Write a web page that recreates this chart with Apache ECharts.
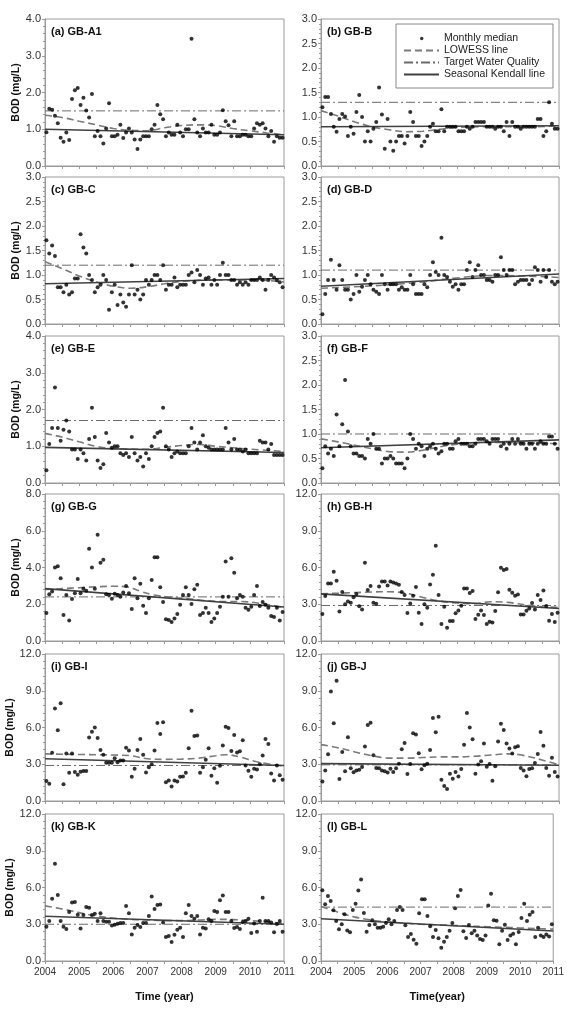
<!DOCTYPE html>
<html lang="en">
<head>
<meta charset="UTF-8">
<title>BOD monthly median trends</title>
<script src="https://cdn.jsdelivr.net/npm/echarts@6/dist/echarts.min.js"></script>
<style>
    html, body { margin: 0; padding: 0; background: #fff; }
    #main { width: 567px; height: 1012px; }
</style>
</head>
<body>
<div id="main"></div>
<script>
// panel labels and axis ranges
var panelNames = ['(a) GB-A1', '(b) GB-B', '(c) GB-C', '(d) GB-D', '(e) GB-E', '(f) GB-F',
                  '(g) GB-G', '(h) GB-H', '(i) GB-I', '(j) GB-J', '(k) GB-K', '(l) GB-L'];
var yMax  = [4, 3, 3, 3, 4, 3, 8, 12, 12, 12, 12, 12];
var yStep = [1, 0.5, 0.5, 0.5, 1, 0.5, 2, 3, 3, 3, 3, 3];
var xTicks = [2004, 2005, 2006, 2007, 2008, 2009, 2010, 2011];

// target water quality and seasonal kendall line ends (2004 -> 2011)
var target  = [1.5, 1.3, 1.2, 1.1, 1.7, 1.0, 2.4, 2.9, 2.9, 2.95, 3.0, 4.4];
var skStart = [1.0, 0.8, 0.82, 0.77, 0.97, 0.72, 2.85, 3.85, 3.45, 3.05, 3.65, 3.45];
var skEnd   = [0.85, 0.82, 0.93, 1.02, 0.83, 0.88, 1.85, 2.65, 2.9, 2.92, 3.0, 2.45];

// monthly medians, Jan 2004 .. Dec 2010
var medA = [0.92,1.56,1.53,1.37,1.16,0.77,0.66,0.91,0.71,1.82,2.06,2.12,1.66,1.86,1.51,1.32,1.96,0.81,0.95,0.81,
            0.61,1.02,1.71,0.81,0.81,0.85,1.12,0.76,0.91,1.02,0.91,0.72,0.46,0.72,0.81,0.81,0.81,1.0,1.12,1.66,
            1.41,1.27,0.81,0.91,0.85,0.85,1.12,0.91,0.81,1.0,1.0,3.46,1.27,0.91,0.81,1.02,0.91,0.91,1.12,0.85,
            0.85,0.91,1.52,1.22,1.11,0.81,1.22,0.81,0.81,0.85,0.85,0.81,0.81,1.02,1.16,1.12,1.16,1.02,0.81,0.95,
            0.66,0.81,0.77,0.77];
var medB = [1.2,1.41,1.41,1.06,0.8,0.7,0.96,1.06,1.01,0.61,0.8,0.66,1.1,1.45,1.0,0.5,0.71,0.5,0.76,0.9,
            1.6,1.05,0.35,0.96,0.5,0.31,0.5,0.61,0.61,0.46,0.61,1.1,0.9,0.61,0.61,0.41,0.5,0.61,0.8,0.86,
            0.71,0.71,1.16,0.71,0.8,0.8,0.8,0.8,0.71,0.71,0.71,0.8,0.76,0.8,0.9,0.9,0.9,0.9,0.8,0.8,
            0.8,0.76,0.8,0.8,0.71,0.9,0.61,0.9,0.8,0.8,0.76,0.8,0.8,0.8,0.8,0.8,0.96,0.96,0.61,0.71,
            1.3,0.86,0.76,0.76];
var medC = [1.71,1.44,1.6,1.39,0.75,0.75,0.65,0.8,0.6,0.65,0.93,0.93,1.83,1.56,1.44,1.0,0.9,0.65,0.75,0.8,
            1.0,0.9,0.29,0.65,0.8,0.39,0.6,0.44,0.35,0.6,1.2,0.6,0.7,0.5,0.6,0.9,0.8,0.9,1.0,1.0,
            0.9,1.2,0.7,0.8,0.8,0.95,0.75,0.8,0.8,0.8,1.0,1.05,0.85,1.1,1.0,0.8,0.93,0.95,0.8,0.9,
            0.8,1.0,1.25,1.0,1.0,0.9,0.9,0.8,0.85,0.8,0.85,0.8,0.9,0.9,0.9,0.95,0.9,0.7,0.9,1.0,
            0.95,0.9,0.85,0.75];
var medD = [0.2,0.61,0.9,1.31,0.9,0.7,1.2,0.9,0.7,0.7,0.5,0.61,1.0,0.66,0.76,0.9,1.0,0.81,0.7,0.66,
            0.61,1.0,0.81,0.7,0.81,0.81,0.81,0.7,0.75,0.7,0.7,1.0,0.81,0.61,0.61,0.61,0.81,0.75,1.0,1.26,
            1.06,1.0,1.76,1.0,0.96,0.86,0.76,0.81,0.7,0.81,0.81,1.1,1.26,0.96,1.1,1.2,1.0,1.0,0.9,0.9,
            0.86,1.0,1.0,1.36,1.1,1.0,1.1,1.1,0.81,0.86,0.9,0.9,0.9,0.81,0.9,1.16,1.1,0.86,1.1,0.96,
            1.1,0.86,0.81,0.86];
var medE = [0.35,1.06,1.5,2.6,1.5,1.15,1.45,1.7,1.4,0.91,0.91,0.65,0.91,0.81,0.61,1.2,2.05,1.25,0.61,0.41,
            0.51,1.36,1.1,0.96,1.0,1.0,0.81,0.76,0.81,0.71,1.25,0.81,0.61,0.71,0.45,0.81,0.65,1.0,1.25,1.36,
            1.4,2.05,1.0,0.91,0.71,0.81,0.86,0.81,0.81,0.81,1.0,1.5,1.1,0.91,1.1,1.3,1.0,0.96,0.91,0.91,
            0.91,0.91,0.91,1.5,1.1,0.91,1.2,0.91,0.91,0.86,0.91,0.81,0.81,0.81,0.81,1.15,1.1,1.1,0.91,1.06,
            0.76,0.76,0.76,0.76];
var medF = [0.3,0.75,0.6,0.7,0.55,1.4,0.75,1.2,2.1,1.05,0.75,0.6,0.6,0.55,0.55,0.5,0.9,0.8,1.0,0.7,
            0.7,0.4,0.5,0.5,0.55,0.5,0.4,0.4,0.4,0.3,0.5,1.0,0.9,0.7,0.8,0.75,0.55,0.7,0.75,0.8,
            0.7,0.6,0.65,0.8,0.8,0.7,0.7,0.85,0.9,0.8,0.8,0.8,0.75,0.75,0.8,0.9,0.9,0.9,0.85,0.8,
            0.9,0.9,0.9,0.75,0.8,0.7,0.8,0.9,0.8,0.9,0.8,0.8,0.7,0.8,0.8,0.7,0.8,0.85,0.8,0.8,
            0.95,0.95,0.8,0.7];
var medG = [1.52,2.55,2.7,4.0,4.07,3.42,1.41,2.5,1.12,2.28,2.6,3.37,2.6,2.84,2.74,5.02,4.0,2.84,5.78,4.26,
            4.42,2.55,2.5,2.3,2.57,2.5,2.41,2.64,2.99,2.6,1.74,3.42,2.32,3.12,1.92,1.52,2.32,3.32,4.56,4.56,
            2.92,2.12,1.18,1.14,1.03,1.23,1.47,1.97,2.5,2.92,2.5,2.01,2.81,3.06,1.41,1.52,1.81,1.52,1.03,1.23,
            1.52,1.87,2.41,4.33,2.41,4.51,3.71,2.32,2.5,2.41,1.81,1.7,1.87,2.5,3.0,1.9,2.12,1.97,1.81,1.36,
            1.3,1.81,1.12,1.58];
var medH = [2.2,3.67,4.7,4.7,5.65,4.92,2.4,4.0,3.0,3.23,3.12,3.58,3.83,2.83,2.58,6.38,4.16,4.48,3.12,3.04,
            4.45,4.86,4.86,4.53,4.86,4.78,4.7,4.6,4.0,3.75,2.28,3.07,3.7,4.4,2.3,1.39,3.0,2.72,4.62,5.4,
            7.77,3.75,1.39,2.8,1.09,1.63,1.63,2.26,2.5,2.88,4.29,4.29,3.91,4.08,1.79,2.15,2.5,2.12,1.39,1.58,
            1.52,2.45,3.97,5.98,5.79,5.87,4.18,3.94,3.7,3.8,2.17,2.17,2.47,2.66,3.1,2.58,3.75,3.34,4.13,2.85,
            1.66,2.2,1.55,2.3];
var medI = [1.63,1.41,3.93,7.56,5.77,7.97,1.36,3.88,2.3,3.88,2.36,2.14,2.38,2.44,2.44,5.18,5.66,5.99,5.15,4.17,
            3.77,3.12,3.12,3.12,3.5,3.17,3.3,3.3,4.34,4.12,1.98,2.63,4.17,5.07,3.77,2.33,2.76,3.0,4.12,6.37,
            5.47,6.42,1.54,1.68,1.19,1.68,1.6,1.98,2.0,2.3,4.31,7.37,5.31,5.34,2.3,2.76,3.36,4.31,2.06,2.68,
            1.49,2.87,4.53,6.07,5.96,4.09,5.39,3.96,4.07,4.96,2.9,2.47,1.98,2.63,2.57,3.0,3.71,5.07,4.66,2.25,
            1.68,2.9,2.11,1.73];
var medJ = [1.6,2.48,3.81,8.94,6.35,9.81,1.8,4.0,2.42,5.2,2.67,2.34,2.48,2.56,2.78,4.44,6.21,6.38,3.73,2.7,
            2.67,2.48,2.42,2.32,2.64,2.37,2.67,3.05,4.22,4.74,2.2,3.02,5.53,5.42,3.9,2.59,2.92,3.05,4.17,6.78,
            5.61,6.87,1.74,1.23,0.98,2.23,1.82,2.37,1.99,2.62,4.6,7.19,6.0,5.04,2.23,2.97,3.24,4.69,2.8,3.02,
            1.66,2.83,4.85,6.3,5.8,4.69,4.28,3.87,4.39,4.47,2.7,2.48,2.02,2.62,2.67,3.11,3.84,5.64,4.52,2.7,
            2.07,3.54,2.37,1.99];
var medK = [2.8,3.27,5.08,7.93,5.38,3.27,2.8,2.61,4.0,4.78,4.81,3.78,2.66,3.75,4.4,4.35,3.75,3.86,3.27,3.89,
            3.27,3.21,3.21,2.9,2.96,3.04,3.1,3.1,4.48,3.89,2.17,2.72,2.93,2.77,3.1,3.1,3.67,5.27,4.24,4.57,
            4.62,3.15,1.96,2.04,1.55,2.15,2.55,2.72,1.96,3.89,4.57,3.67,3.45,3.67,2.17,2.72,2.66,3.4,3.27,4.08,
            4.0,4.95,5.35,4.0,4.0,3.27,2.69,2.77,2.61,3.18,3.27,3.45,2.28,3.07,2.39,3.27,5.16,3.27,3.27,3.15,
            2.34,3.02,3.27,2.39];
var medL = [5.78,4.63,5.31,4.9,4.14,3.27,2.59,3.0,3.82,2.5,2.34,4.16,4.68,5.75,6.65,3.92,2.39,2.94,3.32,3.0,
            2.72,2.72,2.8,3.1,3.4,3.0,3.27,4.16,4.4,4.16,2.91,1.96,2.2,1.74,1.41,3.89,5.05,5.05,3.67,2.83,
            1.96,2.53,1.85,1.09,1.58,1.96,2.47,3.1,4.3,5.31,5.8,2.42,1.88,2.94,2.26,2.47,2.09,1.79,1.71,2.09,
            4.54,5.49,3.32,3.29,1.36,2.47,2.96,1.71,2.09,2.23,1.36,2.36,3.51,4.68,3.27,3.78,4.0,1.96,2.72,2.09,
            1.96,2.17,2.01,3.0];

// LOWESS curves: [year, BOD]
var lowA = [[2004,1.38],[2004.5,1.32],[2005,1.22],[2005.5,1.12],[2006,1.02],[2006.5,0.97],[2007,0.96],[2007.5,1.04],
            [2008,1.1],[2008.5,1.12],[2009,1.1],[2009.5,1.02],[2010,0.96],[2010.5,0.9],[2011,0.85]];
var lowB = [[2004,1.13],[2004.5,1.02],[2005,0.9],[2005.5,0.8],[2006,0.74],[2006.5,0.7],[2007,0.71],[2007.5,0.75],
            [2008,0.79],[2009,0.8],[2010,0.8],[2011,0.82]];
var lowC = [[2004,1.27],[2004.5,1.13],[2005,0.98],[2005.5,0.86],[2006,0.77],[2006.5,0.73],[2007,0.76],[2007.5,0.82],
            [2008,0.87],[2009,0.9],[2010,0.9],[2011,0.86]];
var lowD = [[2004,0.73],[2005,0.76],[2006,0.8],[2007,0.86],[2008,0.94],[2009,0.99],[2010,0.98],[2011,0.95]];
var lowE = [[2004,1.35],[2004.5,1.25],[2005,1.12],[2005.5,1.0],[2006,0.94],[2007,0.92],[2007.5,0.97],[2008,1.02],
            [2008.5,1.05],[2009,1.0],[2009.5,0.96],[2010,0.92],[2011,0.86]];
var lowF = [[2004,0.9],[2004.5,0.84],[2005,0.77],[2005.5,0.7],[2006,0.64],[2006.5,0.63],[2007,0.67],[2007.5,0.74],
            [2008,0.79],[2008.5,0.82],[2009,0.83],[2010,0.82],[2011,0.8]];
var lowG = [[2004,2.8],[2004.5,2.85],[2005,2.9],[2005.5,2.95],[2006,2.98],[2006.4,2.95],[2006.8,2.7],[2007.2,2.5],
            [2007.7,2.38],[2008.2,2.3],[2008.7,2.2],[2009.2,2.15],[2009.7,2.15],[2010.3,2.05],[2011,1.82]];
var lowH = [[2004,3.85],[2004.5,3.9],[2005,3.95],[2005.5,4.0],[2006,4.02],[2006.5,3.9],[2007,3.55],[2007.5,3.25],
            [2008,3.1],[2008.5,3.05],[2009,3.2],[2009.5,3.15],[2010,2.95],[2010.5,2.8],[2011,2.75]];
var lowI = [[2004,3.85],[2004.5,3.82],[2005,3.8],[2005.5,3.78],[2006,3.75],[2006.5,3.7],[2007,3.45],[2007.5,3.4],
            [2008,3.42],[2008.5,3.5],[2009,3.7],[2009.3,3.78],[2009.7,3.6],[2010.2,3.2],[2011,2.85]];
var lowJ = [[2004,4.6],[2004.5,4.35],[2005,4.0],[2005.5,3.7],[2006,3.5],[2006.5,3.5],[2007,3.55],[2007.5,3.6],
            [2008,3.6],[2008.5,3.65],[2009,3.75],[2009.5,3.85],[2009.9,3.75],[2010.5,3.35],[2011,2.95]];
var lowK = [[2004,4.5],[2004.5,4.25],[2005,3.95],[2005.5,3.68],[2006,3.5],[2006.5,3.4],[2007,3.35],[2007.5,3.3],
            [2008,3.3],[2008.5,3.35],[2009,3.4],[2009.5,3.38],[2010,3.3],[2010.5,3.2],[2011,3.05]];
var lowL = [[2004,4.45],[2004.5,4.0],[2005,3.6],[2005.5,3.35],[2006,3.2],[2006.5,3.1],[2007,3.0],[2007.5,2.95],
            [2008,2.9],[2008.5,2.85],[2009,2.8],[2009.5,2.75],[2010,2.7],[2010.5,2.65],[2011,2.6]];

var medians = [medA, medB, medC, medD, medE, medF, medG, medH, medI, medJ, medK, medL];
var lowess  = [lowA, lowB, lowC, lowD, lowE, lowF, lowG, lowH, lowI, lowJ, lowK, lowL];

var myChart = echarts.init(document.getElementById('main'));

// grid placement
var colLeft  = [45, 321];
var colWidth = [239, 238];
var rowTop   = [19, 177, 336, 494, 654, 814];
var plotH    = 147;
var frameColor = '#9a9a9a';
var font = '"Liberation Sans", Arial, sans-serif';

var lowessColor = '#7a7a7a', targetColor = '#6a6a6a', skColor = '#404040';

var grids = [], xAxes = [], yAxes = [], titles = [], series = [];

for (var i = 0; i < 12; i++) {
    var col = i % 2, row = Math.floor(i / 2);
    var bottomRow = row === 5;
    grids.push({
        left: colLeft[col], top: rowTop[row], width: colWidth[col], height: plotH,
        show: true, borderColor: frameColor, borderWidth: 1, backgroundColor: 'transparent'
    });
    xAxes.push({
        type: 'value', gridIndex: i, min: 2004, max: 2011, interval: 0.5,
        axisLine: { show: true, lineStyle: { color: frameColor } },
        axisTick: { show: true, length: 3, lineStyle: { color: frameColor } },
        splitLine: { show: false },
        axisLabel: {
            show: bottomRow, fontSize: 10, margin: 6, color: '#333', fontFamily: font,
            formatter: function (v) { return xTicks.indexOf(v) >= 0 ? String(v) : ''; }
        },
        name: bottomRow ? (col === 0 ? 'Time (year)' : 'Time(year)') : '',
        nameLocation: 'middle', nameGap: 30,
        nameTextStyle: { fontWeight: 'bold', fontSize: 11, color: '#111', fontFamily: font }
    });
    yAxes.push({
        type: 'value', gridIndex: i, min: 0, max: yMax[i], interval: yStep[i],
        axisLine: { show: true, lineStyle: { color: frameColor } },
        axisTick: { show: true, length: 3, lineStyle: { color: frameColor } },
        minorTick: { show: true, splitNumber: 5, length: 2, lineStyle: { color: frameColor } },
        splitLine: { show: false },
        axisLabel: {
            fontSize: 11, margin: 4, color: '#333', fontFamily: font,
            formatter: function (v) { return v.toFixed(1); }
        },
        name: col === 0 ? 'BOD (mg/L)' : '',
        nameLocation: 'middle', nameGap: 18,
        nameTextStyle: { fontWeight: 'bold', fontSize: 10.5, color: '#111', fontFamily: font }
    });
    titles.push({
        text: panelNames[i], left: colLeft[col] + 6, top: rowTop[row] + 7,
        padding: 0,
        textStyle: { fontWeight: 'bold', fontSize: 11, color: '#111', fontFamily: font }
    });

    series.push({
        name: 'Monthly median', type: 'scatter', xAxisIndex: i, yAxisIndex: i,
        data: medians[i].map(function (v, k) { return [2004 + (k + 0.5) / 12, v]; }),
        symbol: 'circle', symbolSize: 4, itemStyle: { color: '#000' }, z: 5,
        silent: true
    });
    series.push({
        name: 'LOWESS line', type: 'line', xAxisIndex: i, yAxisIndex: i,
        data: lowess[i], smooth: 0.4, symbol: 'none',
        itemStyle: { color: lowessColor },
        lineStyle: { color: lowessColor, width: 1.6, type: [7, 4] }, z: 3, silent: true
    });
    series.push({
        name: 'Target Water Quality', type: 'line', xAxisIndex: i, yAxisIndex: i,
        data: [[2004, target[i]], [2011, target[i]]], symbol: 'none',
        itemStyle: { color: targetColor },
        lineStyle: { color: targetColor, width: 1, type: [9, 3, 2, 3] }, z: 2, silent: true
    });
    series.push({
        name: 'Seasonal Kendall line', type: 'line', xAxisIndex: i, yAxisIndex: i,
        data: [[2004, skStart[i]], [2011, skEnd[i]]], symbol: 'none',
        itemStyle: { color: skColor },
        lineStyle: { color: skColor, width: 1.6 }, z: 4, silent: true
    });
}

var option = {
    animation: false,
    backgroundColor: '#fff',
    textStyle: { fontFamily: font },
    title: titles,
    grid: grids,
    xAxis: xAxes,
    yAxis: yAxes,
    legend: {
        left: 396, top: 24, orient: 'vertical',
        padding: [9, 8, 8, 7],
        borderColor: '#888', borderWidth: 1, backgroundColor: '#fff',
        itemWidth: 35, itemHeight: 10, itemGap: 1,
        selectedMode: false,
        textStyle: { fontSize: 10.5, color: '#222', fontFamily: font },
        data: [
            { name: 'Monthly median', icon: 'path://M0,0M35,10M16,5a1.7,1.7 0 1,0 3.4,0a1.7,1.7 0 1,0 -3.4,0z' },
            { name: 'LOWESS line', itemStyle: { opacity: 0 } },
            { name: 'Target Water Quality', itemStyle: { opacity: 0 } },
            { name: 'Seasonal Kendall line', itemStyle: { opacity: 0 } }
        ]
    },
    series: series
};

myChart.setOption(option);
</script>
</body>
</html>
